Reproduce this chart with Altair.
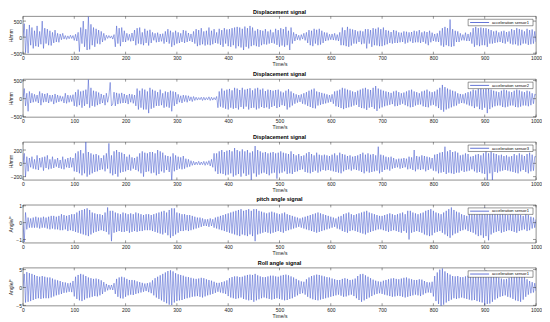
import altair as alt
import pandas as pd

# time axis (s): one sample every 2.5 s from 0 to 1000
times = [k * 2.5 for k in range(401)]
x_ticks = list(range(0, 1001, 100))

disp_sensor1 = [
    0, 420, -480, 250, -500, 380, -250, 300, -350, 200, -280, 350, -300, 180, -220, 500, -350, 280, -200, 250,
    -250, 200, -260, 150, -180, 220, -150, 120, -160, 100, -80, 120, -60, 50, -70, 40, -50, 60, -40, 50,
    -100, 90, -120, 150, -450, 300, -200, 500, -300, 250, -400, 640, -380, 400, -250, 300, -300, 260, -200, 220,
    -220, 180, -150, 120, -100, 60, -40, 50, -30, 40, -60, 80, -300, 350, -200, 280, -280, 300, -150, 200,
    -150, 120, -100, 90, -130, 130, -120, 220, -250, 280, -200, 300, -220, 150, -250, 260, -180, 200, -260, 230,
    -180, 150, -100, 120, -160, 140, -150, 100, -130, 110, -200, 180, -150, 250, -200, 200, -300, 150, -250, 200,
    -200, 150, -180, 120, -150, 220, -180, 200, -150, 130, -120, 100, -150, 180, -200, 250, -280, 220, -250, 280,
    -220, 180, -260, 200, -230, 300, -250, 200, -220, 250, -180, 150, -200, 260, -240, 220, -300, 280, -200, 240,
    -280, 250, -300, 280, -250, 300, -350, 320, -280, 300, -320, 260, -400, 330, -300, 280, -350, 350, -280, 300,
    -250, 200, -280, 250, -300, 220, -250, 200, -220, 250, -230, 180, -200, 230, -180, 150, -200, 260, -240, 220,
    -300, 280, -260, 250, -300, 320, -250, 200, -400, 300, -200, 150, -120, 100, -80, 60, -100, 80, -60, 120,
    -100, 150, -180, 220, -250, 200, -280, 260, -200, 230, -250, 260, -230, 200, -180, 150, -120, 140, -100, 90,
    -80, 100, -90, 120, -100, 80, -120, 150, -250, 300, -250, 220, -280, 320, -300, 260, -260, 240, -200, 220,
    -200, 180, -150, 200, -220, 180, -200, 250, -350, 250, -200, 220, -300, 280, -250, 260, -260, 300, -280, 250,
    -280, 300, -250, 220, -220, 200, -180, 160, -200, 220, -180, 200, -180, 150, -160, 140, -150, 180, -200, 170,
    -170, 150, -130, 160, -180, 200, -160, 180, -160, 220, -180, 150, -150, 180, -200, 160, -250, 200, -160, 140,
    -120, 100, -140, 120, -150, 200, -260, 280, -300, 320, -250, 280, -280, 550, -300, 250, -280, 200, -150, 180,
    -150, 120, -100, 80, -100, 140, -120, 100, -120, 150, -200, 280, -300, 320, -250, 280, -280, 300, -250, 280,
    -250, 280, -300, 250, -200, 220, -200, 180, -180, 200, -160, 150, -150, 180, -180, 200, -200, 160, -140, 180,
    -200, 250, -230, 220, -220, 280, -260, 250, -250, 230, -200, 180, -200, 260, -240, 220, -220, 240, -200, 180,
    -150,
]

disp_sensor2 = [
    0, 280, -200, 150, -350, 200, -120, 150, -100, 120, -80, 100, -120, 200, -180, 150, -100, 130, -90, 150,
    -120, 100, -80, 100, -150, 130, -110, 100, -90, 80, -70, 60, -120, 150, -130, 100, -100, 90, -80, 110,
    -200, 180, -220, 250, -180, 200, -250, 220, -200, 250, -150, 530, -250, 300, -200, 220, -220, 200, -180, 170,
    -150, 130, -120, 100, -180, 150, -100, 80, 450, -200, -150, 180, -200, 160, -150, 140, -130, 160, -120, 130,
    -120, 100, -150, 130, -100, 120, -130, 100, -200, 280, -300, 220, -250, 280, -300, 250, -300, 200, -400, 300,
    -280, 250, -250, 220, -200, 180, -200, 250, -180, 150, -250, 200, -220, 180, -250, 220, -350, 200, -200, 180,
    -150, 120, -100, 80, -120, 100, -80, 90, -100, 80, -60, 50, -80, 60, -50, 40, -40, 30, -30, 40,
    -50, 40, -40, 30, -30, 50, -50, 40, -40, 30, -30, 60, -250, 200, -220, 280, -250, 220, -280, 250,
    -300, 270, -250, 230, -280, 300, -260, 280, -300, 240, -230, 300, -280, 250, -220, 270, -300, 290, -260, 230,
    -250, 280, -300, 300, -270, 250, -230, 280, -260, 210, -240, 250, -280, 240, -230, 220, -200, 240, -260, 250,
    -230, 200, -180, 170, -200, 220, -300, 260, -240, 200, -190, 150, -140, 120, -110, 100, -90, 120, -140, 150,
    -160, 180, -200, 220, -230, 250, -260, 280, -270, 200, -190, 180, -170, 160, -150, 140, -130, 120, -110, 100,
    -90, 120, -140, 200, -210, 220, -230, 250, -260, 300, -290, 280, -260, 250, -240, 230, -220, 200, -190, 180,
    -170, 220, -230, 250, -260, 280, -270, 300, -310, 260, -250, 240, -230, 300, -280, 350, -340, 280, -270, 250,
    -240, 220, -210, 200, -190, 180, -170, 160, -150, 200, -210, 220, -200, 180, -170, 150, -140, 170, -180, 200,
    -210, 230, -240, 250, -230, 200, -190, 180, -170, 150, -160, 200, -210, 220, -230, 250, -240, 200, -190, 180,
    -170, 200, -210, 250, -260, 300, -310, 380, -360, 320, -300, 280, -270, 250, -240, 220, -210, 200, -190, 150,
    -140, 130, -120, 120, -130, 150, -160, 180, -190, 200, -210, 250, -260, 230, -220, 280, -290, 300, -310, 260,
    -250, 400, -400, 300, -290, 250, -240, 220, -210, 200, -190, 180, -190, 220, -230, 250, -240, 230, -220, 200,
    -190, 180, -190, 220, -230, 250, -240, 230, -220, 200, -190, 180, -190, 220, -210, 200, -180, 150, -140, 120,
    100,
]

disp_sensor3 = [
    0, 150, -200, 100, -120, 80, -60, 100, -80, 60, -90, 120, -100, 80, -60, 90, -110, 100, -70, 120,
    -90, 60, -80, 100, -70, 60, -50, 80, -70, 50, -80, 100, -90, 60, -60, 80, -70, 90, -60, 80,
    -120, 150, -130, 180, -150, 200, -180, 150, -150, 330, -200, 170, -170, 150, -150, 130, -130, 140, -120, 120,
    -100, 80, -90, 120, -120, 150, -80, 300, -150, 120, -180, 180, -160, 200, -200, 170, -140, 160, -130, 140,
    -120, 100, -100, 130, -110, 90, -80, 80, -100, 100, -120, 150, -150, 180, -200, 160, -130, 150, -120, 170,
    -150, 170, -140, 150, -180, 200, -160, 180, -120, 160, -140, 120, -100, 110, -130, 100, -280, 150, -120, 120,
    -100, 100, -80, 90, -90, 110, -80, 70, -60, 60, -50, 40, -30, 30, -25, 20, -20, 30, -25, 20,
    -20, 30, -30, 25, -20, 40, -40, 60, -60, 150, -120, 150, -160, 180, -150, 200, -160, 170, -180, 190,
    -170, 200, -150, 180, -200, 230, -180, 200, -160, 180, -200, 210, -150, 180, -190, 200, -170, 160, -250, 180,
    -150, 260, -200, 200, -170, 180, -150, 160, -140, 170, -160, 150, -180, 160, -150, 170, -140, 150, -230, 160,
    -150, 180, -140, 160, -120, 150, -160, 140, -150, 180, -160, 140, -130, 120, -120, 140, -100, 110, -90, 120,
    -130, 150, -140, 170, -150, 140, -130, 120, -110, 160, -140, 130, -120, 120, -100, 130, -110, 120, -100, 110,
    -110, 130, -120, 150, -130, 120, -140, 160, -150, 140, -120, 130, -100, 110, -90, 120, -110, 100, -90, 110,
    -100, 120, -110, 140, -130, 160, -150, 130, -120, 150, -140, 130, -130, 140, -120, 120, -110, 250, -150, 130,
    -130, 120, -100, 100, -90, 90, -110, 100, -80, 80, -70, 60, -60, 70, -80, 70, -70, 80, -60, 70,
    -90, 100, -80, 90, -100, 200, -120, 110, -90, 100, -100, 120, -90, 110, -120, 100, -100, 90, -80, 80,
    -110, 130, -120, 140, -150, 160, -140, 170, -130, 250, -160, 180, -140, 200, -150, 170, -160, 180, -140, 160,
    -140, 120, -110, 130, -130, 150, -120, 140, -110, 100, -90, 110, -120, 130, -140, 140, -130, 120, -150, 150,
    -160, 180, -250, 150, -150, 170, -250, 150, -130, 140, -140, 120, -120, 130, -110, 110, -100, 120, -110, 100,
    -120, 110, -130, 140, -140, 120, -150, 150, -120, 130, -100, 110, -130, 140, -150, 160, -120, 130, -110, 100,
    100,
]

pitch_sensor1 = [
    0, -1.15, 0.6, -0.4, 0.3, -0.3, 0.25, -0.3, 0.3, -0.3, 0.35, -0.3, 0.3, -0.35, 0.3, -0.3, 0.35, -0.3, 0.3, -0.35,
    0.35, -0.4, 0.4, -0.35, 0.4, -0.4, 0.35, -0.4, 0.4, -0.45, 0.5, -0.45, 0.45, -0.4, 0.4, -0.5, 0.45, -0.45, 0.5, -0.5,
    0.5, -0.55, 0.6, -0.6, 0.7, -0.65, 0.75, -0.7, 0.8, -0.75, 0.85, -0.8, 0.75, -0.7, 0.6, -0.6, 0.55, -0.55, 0.5, -0.5,
    0.5, -0.45, 0.45, -0.5, 0.6, -0.55, 0.9, -0.7, 0.7, -1.1, 0.7, -0.6, 0.6, -0.55, 0.55, -0.5, 0.5, -0.55, 0.6, -0.55,
    0.55, -0.5, 0.5, -0.6, 0.55, -0.55, 0.5, -0.5, 0.6, -0.55, 0.55, -0.5, 0.5, -0.5, 0.45, -0.45, 0.5, -0.45, 0.5, -0.45,
    0.45, -0.5, 0.5, -0.55, 0.55, -0.6, 0.6, -0.65, 0.65, -0.7, 0.7, -0.6, 0.6, -0.75, 0.75, -0.9, 0.85, -0.8, 0.85, -0.7,
    0.6, -0.6, 0.55, -0.5, 0.5, -0.5, 0.5, -0.45, 0.45, -0.5, 0.45, -0.45, 0.4, -0.4, 0.35, -0.35, 0.3, -0.3, 0.3, -0.25,
    0.25, -0.2, 0.2, -0.2, 0.2, -0.25, 0.25, -0.2, 0.2, -0.3, 0.3, -0.35, 0.35, -0.4, 0.4, -0.45, 0.45, -0.5, 0.5, -0.55,
    0.55, -0.6, 0.6, -0.65, 0.65, -0.7, 0.7, -0.75, 0.75, -0.8, 0.8, -0.7, 0.7, -0.75, 0.75, -0.8, 0.8, -0.7, 0.7, -0.8,
    0.8, -1.1, 0.8, -0.7, 0.7, -0.65, 0.65, -0.6, 0.6, -0.55, 0.55, -0.6, 0.6, -0.65, 0.65, -0.6, 0.6, -0.55, 0.55, -0.5,
    0.5, -0.55, 0.55, -0.6, 0.6, -0.5, 0.5, -0.45, 0.45, -0.4, 0.4, -0.35, 0.35, -0.3, 0.3, -0.25, 0.25, -0.3, 0.3, -0.35,
    0.35, -0.4, 0.4, -0.45, 0.45, -0.5, 0.5, -0.55, 0.55, -0.6, 0.6, -0.55, 0.55, -0.5, 0.5, -0.45, 0.45, -0.4, 0.4, -0.35,
    0.35, -0.3, 0.3, -0.25, 0.25, -0.35, 0.35, -0.4, 0.4, -0.5, 0.5, -0.55, 0.55, -0.6, 0.6, -0.5, 0.5, -0.45, 0.45, -0.5,
    0.5, -0.55, 0.55, -0.6, 0.6, -0.65, 0.65, -0.7, 0.7, -0.6, 0.6, -0.55, 0.55, -0.5, 0.5, -0.45, 0.45, -0.4, 0.4, -0.4,
    0.4, -0.45, 0.45, -0.5, 0.5, -0.55, 0.55, -0.5, 0.5, -0.45, 0.45, -0.5, 0.5, -0.55, 0.55, -0.6, 0.6, -0.5, 0.5, -0.6,
    0.7, -1.0, 0.7, -0.6, 0.6, -0.55, 0.55, -0.5, 0.5, -0.55, 0.55, -0.6, 0.6, -0.7, 0.7, -0.75, 0.75, -0.8, 0.8, -0.75,
    0.7, -0.6, 0.6, -0.55, 0.55, -0.5, 0.5, -0.6, 0.6, -0.7, 0.7, -0.8, 0.8, -0.9, 0.9, -0.75, 0.75, -0.65, 0.65, -0.6,
    0.6, -0.5, 0.5, -0.45, 0.45, -0.4, 0.4, -0.5, 0.5, -0.55, 0.55, -0.6, 0.6, -0.7, 0.7, -0.8, 0.8, -0.75, 0.75, -0.9,
    0.9, -0.8, 0.8, -1.05, 0.7, -0.7, 0.6, -0.6, 0.55, -0.55, 0.5, -0.5, 0.6, -0.6, 0.55, -0.55, 0.5, -0.5, 0.45, -0.45,
    0.5, -0.5, 0.55, -0.55, 0.6, -0.6, 0.5, -0.5, 0.45, -0.45, 0.4, -0.4, 0.5, -0.5, 0.45, -0.45, 0.35, -0.35, 0.3, -0.3,
    0.2,
]

roll_sensor1 = [
    0, 3.8, -4.2, 4.3, -4.0, 4.0, -3.8, 3.8, -3.5, 3.5, -3.2, 3.2, -3.0, 3.0, -3.2, 3.2, -3.0, 3.0, -3.0, 2.8,
    -3.0, 2.8, -2.8, 2.5, -2.5, 2.2, -2.2, 2.0, -2.0, 1.8, -1.8, 1.5, -1.5, 1.4, -1.4, 1.2, -1.2, 1.3, -1.3, 1.8,
    -2.5, 3.0, -3.2, 3.5, -3.6, 3.8, -3.8, 3.6, -3.4, 3.2, -3.0, 2.8, -2.8, 2.6, -2.6, 2.4, -2.4, 2.5, -2.5, 2.3,
    -2.2, 2.0, -1.8, 1.5, -1.2, 1.0, -0.8, 0.7, -0.6, 0.7, -0.7, 1.2, -1.8, 2.4, -2.6, 2.8, -3.0, 3.0, -3.1, 2.8,
    -2.6, 2.4, -2.2, 2.1, -2.0, 2.1, -2.1, 2.0, -1.8, 1.7, -1.6, 1.5, -1.4, 1.3, -1.2, 1.1, -1.0, 1.2, -1.3, 1.4,
    -1.6, 2.0, -2.2, 2.6, -2.8, 3.0, -3.2, 3.4, -3.6, 3.8, -4.0, 4.2, -4.4, 4.6, -4.8, 4.8, -4.9, 4.5, -4.2, 4.0,
    -3.8, 3.7, -3.6, 3.5, -3.5, 3.3, -3.2, 3.0, -3.0, 2.9, -2.8, 2.7, -2.6, 2.5, -2.5, 2.4, -2.4, 2.5, -2.6, 2.7,
    -2.8, 2.6, -2.5, 2.3, -2.2, 2.1, -2.0, 1.9, -1.8, 1.6, -1.5, 1.3, -1.2, 1.3, -1.4, 1.5, -1.6, 1.7, -1.8, 2.0,
    -2.4, 2.6, -2.8, 2.9, -3.0, 3.1, -3.2, 3.1, -3.0, 2.9, -2.8, 3.0, -3.2, 3.3, -3.4, 3.5, -3.6, 3.6, -3.5, 3.5,
    -4.0, 3.8, -3.6, 3.4, -3.3, 3.1, -3.0, 2.9, -2.8, 2.9, -3.0, 3.1, -3.2, 3.3, -3.4, 3.3, -3.2, 3.1, -3.0, 3.0,
    -3.2, 3.3, -3.4, 3.5, -3.6, 3.6, -3.5, 3.4, -3.2, 3.1, -3.0, 2.8, -2.6, 2.4, -2.2, 2.0, -1.8, 1.7, -1.6, 1.6,
    -2.0, 2.3, -2.6, 2.8, -3.0, 3.2, -3.3, 3.4, -3.5, 3.6, -3.6, 3.5, -3.4, 3.3, -3.2, 3.1, -3.0, 2.9, -2.8, 2.8,
    -2.6, 2.5, -2.4, 2.3, -2.2, 2.1, -2.0, 2.1, -2.3, 2.4, -2.6, 2.6, -2.5, 2.4, -2.2, 2.1, -2.0, 2.2, -2.4, 2.5,
    -3.0, 3.2, -3.5, 3.7, -4.0, 3.8, -3.6, 3.4, -3.2, 3.0, -2.8, 2.6, -2.4, 2.2, -2.0, 1.9, -1.8, 1.7, -1.6, 1.6,
    -1.8, 1.9, -2.0, 2.1, -2.2, 2.3, -2.4, 2.5, -2.6, 2.6, -2.5, 2.4, -2.3, 2.3, -2.4, 2.5, -2.6, 2.7, -2.8, 2.8,
    -2.6, 2.5, -2.4, 2.3, -2.2, 2.1, -2.0, 2.1, -2.2, 2.3, -2.4, 2.2, -2.0, 1.8, -1.6, 1.5, -1.4, 1.4, -1.5, 1.6,
    -2.5, 3.2, -3.8, 4.2, -4.6, 5.0, -5.3, 5.3, -4.8, 4.5, -4.2, 4.0, -3.8, 3.6, -3.4, 3.2, -3.0, 3.1, -3.2, 3.2,
    -3.0, 2.9, -2.8, 2.9, -3.0, 3.1, -3.2, 3.3, -3.4, 3.5, -3.6, 3.6, -3.5, 3.6, -3.8, 3.9, -4.0, 4.1, -4.2, 4.4,
    -5.0, 4.8, -4.6, 4.5, -4.5, 4.2, -4.0, 3.7, -3.4, 3.2, -3.0, 2.8, -2.6, 2.5, -2.4, 2.3, -2.2, 2.4, -2.6, 2.7,
    -2.8, 3.0, -3.2, 3.4, -3.6, 3.7, -3.8, 3.9, -4.0, 3.8, -3.4, 3.0, -2.6, 2.3, -2.0, 1.8, -1.6, 1.5, -1.4, 1.2,
    -1.0,
]

titles = ["Displacement signal", "Displacement signal", "Displacement signal",
          "pitch angle signal", "Roll angle signal"]
y_titles = ["H/mm", "H/mm", "H/mm", "Angle/°", "Angle/°"]
legend_labels = ["acceleration sensor1", "acceleration sensor2", "acceleration sensor3",
                 "acceleration sensor1", "acceleration sensor1"]
series = [disp_sensor1, disp_sensor2, disp_sensor3, pitch_sensor1, roll_sensor1]
y_domains = [[-530, 650], [-510, 540], [-250, 320], [-1.2, 1.05], [-5.1, 5.5]]
y_ticks = [[-500, 0, 500], [-500, 0, 500], [-200, 0, 200], [-1, 0, 1], [-5, 0, 5]]

W, H = 514, 38
BLUE = "#3d52cc"
DARK = "#333333"
TXT = "#222222"
FONT = "Liberation Sans"

AXIS_STYLE = dict(domain=False, ticks=False, grid=False, labelFlush=False,
                  labelFont=FONT, labelFontSize=5, labelColor=TXT,
                  titleFont=FONT, titleFontSize=5, titleFontWeight="normal",
                  titleColor=TXT)


def panel(i):
    df = pd.DataFrame({"t": times, "v": series[i]})
    xs = alt.Scale(domain=[0, 1000], nice=False, zero=False)
    ys = alt.Scale(domain=y_domains[i], nice=False, zero=False)
    xax = alt.Axis(values=x_ticks, title="Time/s", format="d",
                   labelPadding=1.5, titlePadding=1, **AXIS_STYLE)
    yax = alt.Axis(values=y_ticks[i], title=y_titles[i], titleX=-9,
                   labelPadding=1.5, **AXIS_STYLE)
    x = alt.X("t:Q", scale=xs, axis=xax)
    y = alt.Y("v:Q", scale=ys, axis=yax)
    line = alt.Chart(df).mark_line(color=BLUE, strokeWidth=0.5, clip=True).encode(x=x, y=y)

    xt = pd.DataFrame({"t": x_ticks})
    xtop = alt.Chart(xt).mark_rule(color=DARK, strokeWidth=0.5).encode(
        x=x, y=alt.value(0), y2=alt.value(2.5))
    xbot = alt.Chart(xt).mark_rule(color=DARK, strokeWidth=0.5).encode(
        x=x, y=alt.value(H - 2.5), y2=alt.value(H))

    yt = pd.DataFrame({"v": y_ticks[i]})
    yleft = alt.Chart(yt).mark_rule(color=DARK, strokeWidth=0.5).encode(
        y=y, x=alt.value(0), x2=alt.value(3))
    yright = alt.Chart(yt).mark_rule(color=DARK, strokeWidth=0.5).encode(
        y=y, x=alt.value(W - 3), x2=alt.value(W))

    lg = pd.DataFrame({"label": [legend_labels[i]]})
    box = alt.Chart(lg).mark_rect(fill="white", stroke=DARK, strokeWidth=0.5).encode(
        x=alt.value(W - 68), x2=alt.value(W - 3), y=alt.value(3), y2=alt.value(9.5))
    sample = alt.Chart(lg).mark_rule(color=BLUE, strokeWidth=0.8).encode(
        x=alt.value(W - 66), x2=alt.value(W - 47), y=alt.value(6.25))
    text = alt.Chart(lg).mark_text(align="left", baseline="middle", fontSize=4,
                                   font=FONT, color="black").encode(
        x=alt.value(W - 44), y=alt.value(6.5), text="label:N")

    return alt.layer(line, xtop, xbot, yleft, yright, box, sample, text).properties(
        width=W, height=H,
        title=alt.TitleParams(titles[i], fontSize=5.5, fontWeight="bold", font=FONT,
                              color="black", offset=1, anchor="middle"))


chart = alt.vconcat(*[panel(i) for i in range(5)], spacing=4, padding=0).configure_view(
    stroke="#444444", strokeWidth=0.6
).configure_axis(**AXIS_STYLE)

chart.save("out.html", embed_options={"renderer": "svg", "actions": False})
